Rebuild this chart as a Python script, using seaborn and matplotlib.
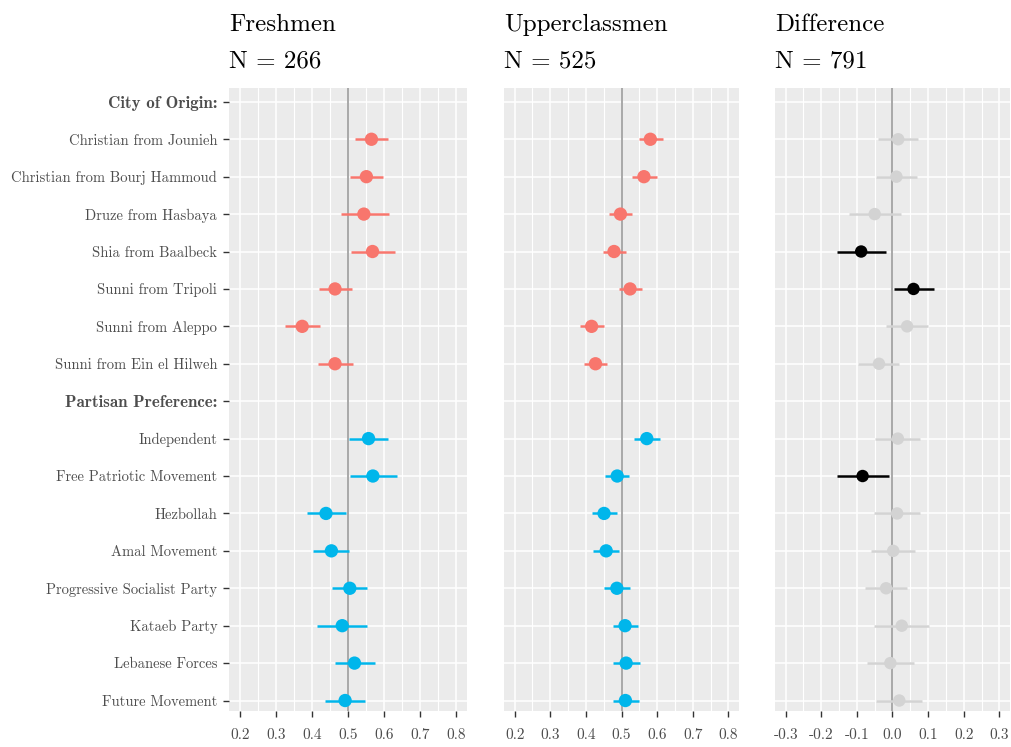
import matplotlib
matplotlib.use("Agg")
import numpy as np
import pandas as pd
import matplotlib.pyplot as plt
import seaborn as sns
from matplotlib.ticker import FixedLocator

# ---------------- data ----------------
row_labels = ["City of Origin:", "Christian from Jounieh", "Christian from Bourj Hammoud",
              "Druze from Hasbaya", "Shia from Baalbeck", "Sunni from Tripoli",
              "Sunni from Aleppo", "Sunni from Ein el Hilweh", "Partisan Preference:",
              "Independent", "Free Patriotic Movement", "Hezbollah", "Amal Movement",
              "Progressive Socialist Party", "Kataeb Party", "Lebanese Forces",
              "Future Movement"]
header_labels = ["City of Origin:", "Partisan Preference:"]
categories = ["Christian from Jounieh", "Christian from Bourj Hammoud", "Druze from Hasbaya",
              "Shia from Baalbeck", "Sunni from Tripoli", "Sunni from Aleppo",
              "Sunni from Ein el Hilweh", "Independent", "Free Patriotic Movement",
              "Hezbollah", "Amal Movement", "Progressive Socialist Party", "Kataeb Party",
              "Lebanese Forces", "Future Movement"]
groups = ["City"] * 7 + ["Party"] * 8

fresh_est = [0.565, 0.551, 0.544, 0.568, 0.464, 0.373, 0.464,
             0.557, 0.569, 0.439, 0.454, 0.505, 0.484, 0.518, 0.492]
fresh_lo = [0.519, 0.506, 0.480, 0.508, 0.419, 0.326, 0.417,
            0.503, 0.506, 0.386, 0.403, 0.457, 0.415, 0.464, 0.437]
fresh_hi = [0.610, 0.598, 0.613, 0.629, 0.511, 0.421, 0.513,
            0.610, 0.636, 0.494, 0.502, 0.552, 0.554, 0.574, 0.547]

upper_est = [0.581, 0.563, 0.497, 0.479, 0.524, 0.416, 0.427,
             0.571, 0.488, 0.451, 0.457, 0.487, 0.510, 0.513, 0.511]
upper_lo = [0.548, 0.529, 0.466, 0.447, 0.492, 0.383, 0.396,
            0.536, 0.454, 0.417, 0.421, 0.451, 0.475, 0.475, 0.476]
upper_hi = [0.616, 0.599, 0.529, 0.514, 0.557, 0.451, 0.459,
            0.607, 0.522, 0.488, 0.493, 0.524, 0.547, 0.553, 0.548]

diff_est = [0.016, 0.011, -0.050, -0.088, 0.059, 0.041, -0.038,
            0.015, -0.084, 0.013, 0.002, -0.018, 0.026, -0.006, 0.019]
diff_lo = [-0.040, -0.047, -0.122, -0.157, 0.003, -0.017, -0.096,
           -0.050, -0.157, -0.052, -0.059, -0.078, -0.052, -0.073, -0.047]
diff_hi = [0.072, 0.069, 0.024, -0.019, 0.117, 0.100, 0.019,
           0.078, -0.010, 0.076, 0.064, 0.041, 0.103, 0.061, 0.084]

panel_titles = ["Freshmen", "Upperclassmen", "Difference"]
panel_n = [266, 525, 791]
x_ticks_share = [0.2, 0.3, 0.4, 0.5, 0.6, 0.7, 0.8]
x_ticks_diff = [-0.3, -0.2, -0.1, 0.0, 0.1, 0.2, 0.3]

# ---------------- style ----------------
sns.set_theme(style="darkgrid", rc={
    "axes.facecolor": "#EBEBEB",
    "grid.color": "white",
    "axes.edgecolor": "none",
})
plt.rcParams["font.family"] = ["cmr10", "DejaVu Sans"]
plt.rcParams["axes.unicode_minus"] = False
plt.rcParams["axes.formatter.use_mathtext"] = True
plt.rcParams["mathtext.fontset"] = "cm"

COL_CITY = "#F8766D"
COL_PARTY = "#00B6EB"
COL_SIG = "#000000"
COL_NS = "#D3D3D3"
TXT = "#4D4D4D"

pos = {lab: i for i, lab in enumerate(row_labels)}
df = pd.DataFrame({
    "category": categories,
    "group": groups,
    "pos": [pos[c] for c in categories],
    "fresh_est": fresh_est, "fresh_lo": fresh_lo, "fresh_hi": fresh_hi,
    "upper_est": upper_est, "upper_lo": upper_lo, "upper_hi": upper_hi,
    "diff_est": diff_est, "diff_lo": diff_lo, "diff_hi": diff_hi,
})
df["sig"] = np.where((df["diff_lo"] > 0) | (df["diff_hi"] < 0), "sig", "ns")

W, H = 1012, 747
fig = plt.figure(figsize=(W / 100, H / 100), dpi=100)
top, bot = 88, 711
boxes = [(229, 467), (504, 739), (775, 1010)]
axes = []
for (l, r) in boxes:
    ax = fig.add_axes([l / W, (H - bot) / H, (r - l) / W, (bot - top) / H])
    axes.append(ax)

group_pal = {"City": COL_CITY, "Party": COL_PARTY}
sig_pal = {"sig": COL_SIG, "ns": COL_NS}

specs = [("fresh", group_pal, "group", 0.5, (0.17, 0.83), x_ticks_share, 92),
         ("upper", group_pal, "group", 0.5, (0.17, 0.83), x_ticks_share, 92),
         ("diff", sig_pal, "sig", 0.0, (-0.33, 0.33), x_ticks_diff, 80)]

for k, (ax, (key, pal, hue, ref, xl, xt, s)) in enumerate(zip(axes, specs)):
    ax.axvline(ref, color="#A8A8A8", lw=1.4, zorder=1.5)
    cols = df[hue].map(pal)
    ax.hlines(df["pos"], df[key + "_lo"], df[key + "_hi"], colors=cols, lw=1.8, zorder=2)
    sns.scatterplot(data=df, x=key + "_est", y="pos", hue=hue, palette=pal, s=s,
                    linewidth=0, legend=False, ax=ax, zorder=3)
    ax.set_xlim(*xl)
    ax.set_ylim(16.28, -0.37)
    ax.set_xlabel("")
    ax.set_ylabel("")
    ax.xaxis.set_major_locator(FixedLocator(xt))
    minor = [v + (xt[1] - xt[0]) / 2 for v in xt[:-1]]
    ax.xaxis.set_minor_locator(FixedLocator(minor))
    ax.set_xticklabels([f"{v:.1f}" for v in xt])
    ax.set_yticks(range(len(row_labels)))
    ax.grid(which="major", color="white", lw=1.1)
    ax.grid(which="minor", axis="x", color="white", lw=0.8)
    ax.tick_params(axis="x", which="major", length=4.5, width=1.0, color="#333333",
                   pad=8, bottom=True, labelsize=11, labelcolor=TXT)
    ax.tick_params(axis="x", which="minor", length=0)
    if k == 0:
        ax.set_yticklabels(row_labels)
        ax.tick_params(axis="y", length=4.5, width=1.0, color="#333333", pad=4,
                       left=True, labelsize=10.5, labelcolor=TXT)
        for t in ax.get_yticklabels():
            if t.get_text() in header_labels:
                t.set_fontfamily(["cmb10", "DejaVu Sans"])
                t.set_fontsize(12.2)
    else:
        ax.set_yticklabels([])
        ax.tick_params(axis="y", length=0)
    for sp in ax.spines.values():
        sp.set_visible(False)
    l = boxes[k][0]
    fig.text(l / W, 1 - 31 / H, panel_titles[k], fontsize=18, color="black",
             ha="left", va="baseline")
    fig.text(l / W, 1 - 67 / H, f"N = {panel_n[k]}", fontsize=18, color="black",
             ha="left", va="baseline")

fig.savefig("out.png", dpi=100, facecolor="white")
